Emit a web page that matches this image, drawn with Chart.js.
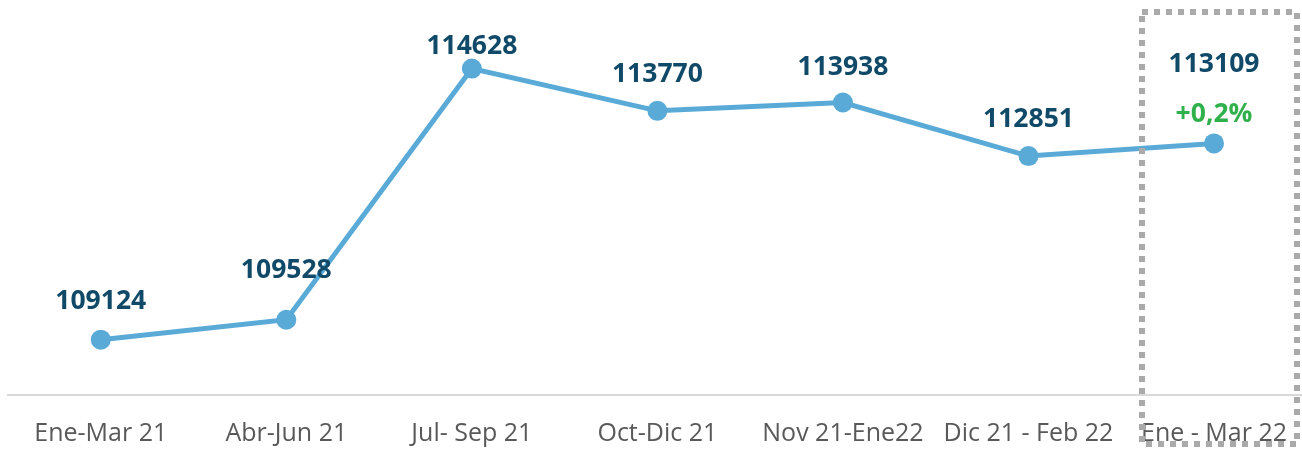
<!DOCTYPE html>
<html>
<head>
<meta charset="utf-8">
<script src="https://cdn.jsdelivr.net/npm/chart.js@4"></script>
<style>
  html, body { margin: 0; padding: 0; background: #ffffff; overflow: hidden; }
  #wrap { position: absolute; left: -1px; top: 0; width: 1312px; height: 449px; }
</style>
</head>
<body>
<div id="wrap"><canvas id="c" width="1312" height="449"></canvas></div>
<script>
const categories = ["Ene-Mar 21", "Abr-Jun 21", "Jul- Sep 21", "Oct-Dic 21", "Nov 21-Ene22", "Dic 21 - Feb 22", "Ene - Mar 22"];
const values = [109124, 109528, 114628, 113770, 113938, 112851, 113109];
const changeLabel = "+0,2%";
const yMin = 108000;
const yMax = 116000;

// label vertical offsets above each point (style only)
const labelOffsets = [38, 49, 22, 36, 35, 37, 79];

const labelPlugin = {
  id: 'customLabels',
  afterDatasetsDraw(chart) {
    const ctx = chart.ctx;
    const meta = chart.getDatasetMeta(0);
    ctx.save();
    ctx.textAlign = 'center';
    ctx.textBaseline = 'middle';
    ctx.font = 'bold 26.5px "Open Sans"';
    ctx.fillStyle = '#114a68';
    meta.data.forEach((pt, i) => {
      ctx.fillText(String(values[i]), pt.x, pt.y - labelOffsets[i]);
    });
    const last = meta.data[meta.data.length - 1];
    ctx.fillStyle = '#2fb04a';
    ctx.fillText(changeLabel, last.x, last.y - 29);
    ctx.restore();
  },
  afterDraw(chart) {
    const ctx = chart.ctx;
    const xs = chart.scales.x;
    const cx = xs.getPixelForValue(categories.length - 1);
    ctx.save();
    ctx.strokeStyle = '#aaaaaa';
    ctx.lineWidth = 6;
    ctx.setLineDash([6, 6]);
    ctx.strokeRect(cx - 72, 12, 155, 432);
    ctx.restore();
  }
};

new Chart(document.getElementById('c'), {
  type: 'line',
  data: {
    labels: categories,
    datasets: [{
      data: values,
      borderColor: '#5aaad7',
      backgroundColor: '#5aaad7',
      borderWidth: 5,
      pointRadius: 10,
      pointHoverRadius: 10,
      pointBackgroundColor: '#5aaad7',
      pointBorderWidth: 0,
      tension: 0,
      clip: false
    }]
  },
  options: {
    responsive: false,
    animation: false,
    events: [],
    layout: { autoPadding: false, padding: { left: 9, right: 0, top: 1, bottom: -24 } },
    plugins: { legend: { display: false }, tooltip: { enabled: false } },
    scales: {
      x: {
        offset: true,
        grid: { display: false, drawTicks: false },
        border: { display: true, color: '#d9d9d9', width: 2 },
        ticks: { color: '#595959', font: { family: '"Open Sans"', size: 25 }, padding: 24, maxRotation: 0, autoSkip: false }
      },
      y: {
        display: false,
        min: yMin,
        max: yMax
      }
    }
  },
  plugins: [labelPlugin]
});
</script>
</body>
</html>
